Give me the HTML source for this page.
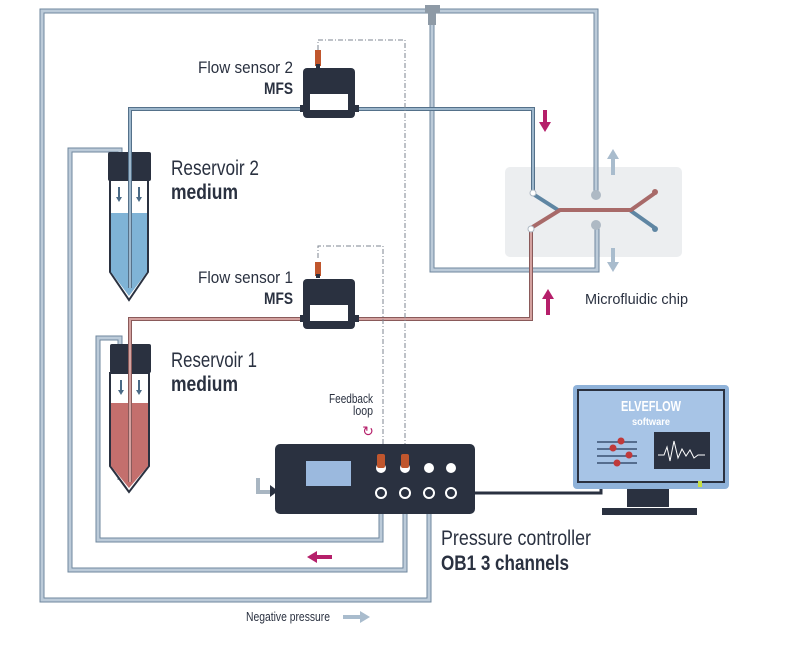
<!DOCTYPE html>
<html><head><meta charset="utf-8"><style>
html,body{margin:0;padding:0;background:#fff;}
svg{display:block}
text{font-family:"Liberation Sans Narrow","Liberation Sans",sans-serif;fill:#2a3140}
</style></head><body>
<svg width="787" height="661" viewBox="0 0 787 661" xmlns="http://www.w3.org/2000/svg">
<rect x="505" y="167" width="177" height="90" rx="5" fill="#eceef0"/>

<g fill="none" stroke-linejoin="miter">
 <g stroke="#6f879e" stroke-width="5">
  <path d="M429,500 V600 H42 V11 H596 V195"/>
  <path d="M432,11 V270 H597 V225"/>
  <path d="M405,500 V570 H70 V150 H120 V285"/>
  <path d="M381,500 V540 H98 V338 H120 V480"/>
 </g>
 <g stroke="#bccbd9" stroke-width="3">
  <path d="M429,500 V600 H42 V11 H596 V195"/>
  <path d="M432,11 V270 H597 V225"/>
  <path d="M405,500 V570 H70 V150 H120 V285"/>
  <path d="M381,500 V540 H98 V338 H120 V480"/>
 </g>
</g>
<rect x="425" y="5" width="15" height="8" fill="#8e9aa6"/>
<rect x="428" y="11" width="8" height="14" fill="#8e9aa6"/>

<path d="M110,180 H148 V272 L129,300 L110,272 Z" fill="#fff" stroke="#2a3140" stroke-width="2"/>
<path d="M111,213 H147 V272 L129,296 L111,272 Z" fill="#7fb3d6"/>
<rect x="108" y="152" width="43" height="29" rx="2" fill="#2a3140"/>
<g stroke="#4a6a86" stroke-width="2"><path d="M119,187 V198 M139,187 V198"/></g>
<g fill="#4a6a86"><path d="M116,197 H122 L119,202 Z M136,197 H142 L139,202 Z"/></g>
<path d="M110,373 H149 V466 L129,492 L110,466 Z" fill="#fff" stroke="#2a3140" stroke-width="2"/>
<path d="M111,403 H148 V466 L129,488 L111,466 Z" fill="#c46f6d"/>
<rect x="110" y="344" width="41" height="29" rx="2" fill="#2a3140"/>
<g stroke="#4a6a86" stroke-width="2"><path d="M121,380 V391 M139,380 V391"/></g>
<g fill="#4a6a86"><path d="M118,390 H124 L121,395 Z M136,390 H142 L139,395 Z"/></g>

<g fill="none">
 <path d="M130,288 V109 H533 V190" stroke="#55718a" stroke-width="4"/>
 <path d="M130,288 V109 H533 V190" stroke="#9db7cc" stroke-width="2"/>
 <path d="M130,482 V319 H531 V232" stroke="#8a5a5a" stroke-width="4"/>
 <path d="M130,482 V319 H531 V232" stroke="#d4a2a0" stroke-width="2"/>
</g>

<g fill="none" stroke-linecap="round">
 <path d="M533,194 L558,210 M631,211 L655,228" stroke="#5f86a3" stroke-width="4"/>
 <path d="M531,228 L560,210 H631 L655,193" stroke="#a86a69" stroke-width="4"/>
</g>
<circle cx="596" cy="195" r="5" fill="#aeb9c4"/>
<circle cx="596" cy="225" r="5" fill="#aeb9c4"/>
<circle cx="533" cy="193" r="3" fill="#fff" stroke="#aeb9c4"/>
<circle cx="531" cy="229" r="3" fill="#fff" stroke="#aeb9c4"/>
<circle cx="655" cy="192" r="3" fill="#a86a69"/>
<circle cx="655" cy="229" r="3" fill="#5f86a3"/>

<g fill="#b51f6a">
 <rect x="543" y="110" width="4" height="13"/><path d="M539,122 H551 L545,132 Z"/>
 <rect x="546" y="298" width="4" height="17"/><path d="M542,299 H554 L548,289 Z"/>
 <rect x="316" y="555" width="16" height="4"/><path d="M317,551 V563 L307,557 Z"/>
</g>
<g fill="#a9bccd">
 <rect x="611" y="157" width="4" height="18"/><path d="M607,159 H619 L613,149 Z"/>
 <rect x="611" y="248" width="4" height="16"/><path d="M607,262 H619 L613,272 Z"/>
 <rect x="343" y="615" width="18" height="4"/><path d="M360,611 V623 L370,617 Z"/>
</g>

<g fill="none" stroke="#7d8690" stroke-width="1" stroke-dasharray="5,2,1,2">
 <path d="M318,50 V40 H405 V458"/>
 <path d="M318,258 V246 H383 V458"/>
</g>

<rect x="300" y="105" width="59" height="7" fill="#2a3140"/>
<rect x="303" y="68" width="52" height="50" rx="4" fill="#2a3140"/>
<rect x="310" y="94" width="38" height="16" fill="#fff"/>
<rect x="315" y="50" width="6" height="16" fill="#c0562d"/>
<rect x="316" y="64" width="4" height="4" fill="#2a3140"/>
<rect x="300" y="315" width="59" height="7" fill="#2a3140"/>
<rect x="303" y="279" width="52" height="50" rx="4" fill="#2a3140"/>
<rect x="310" y="305" width="38" height="16" fill="#fff"/>
<rect x="315" y="262" width="6" height="14" fill="#c0562d"/>
<rect x="316" y="274" width="4" height="4" fill="#2a3140"/>

<rect x="275" y="444" width="200" height="70" rx="5" fill="#2a3140"/>
<rect x="306" y="461" width="45" height="25" fill="#9bb9de"/>
<path d="M258,478 V492 H270" fill="none" stroke="#a9b6c2" stroke-width="4"/>
<path d="M270,485 L278,491 L270,497 Z" fill="#2a3140"/>
<circle cx="381" cy="468" r="5" fill="#fff"/><rect x="377" y="454" width="8" height="14" rx="2" fill="#c0562d"/>
<circle cx="405" cy="468" r="5" fill="#fff"/><rect x="401" y="454" width="8" height="14" rx="2" fill="#c0562d"/>
<circle cx="429" cy="468" r="5" fill="#fff"/>
<circle cx="451" cy="468" r="5" fill="#fff"/>
<g fill="none" stroke="#fff" stroke-width="2">
 <circle cx="381" cy="493" r="5"/><circle cx="405" cy="493" r="5"/><circle cx="429" cy="493" r="5"/><circle cx="451" cy="493" r="5"/>
</g>
<path d="M475,493 H601 V486" fill="none" stroke="#2a3140" stroke-width="3"/>
<text x="368" y="436" font-size="14" text-anchor="middle" style="fill:#b51f6a">↻</text>

<rect x="573" y="385" width="156" height="104" rx="4" fill="#8fb2d9"/>
<rect x="578" y="390" width="146" height="92" fill="#a7c4e6" stroke="#2a3140" stroke-width="2"/>
<rect x="627" y="489" width="42" height="18" fill="#2a3140"/>
<rect x="602" y="508" width="95" height="7" fill="#2a3140"/>
<rect x="698" y="481" width="4" height="6" fill="#c8e040"/>
<text x="651" y="411" font-size="15" font-weight="bold" text-anchor="middle" textLength="60" lengthAdjust="spacingAndGlyphs" style="fill:#fff">ELVEFLOW</text>
<text x="651" y="425" font-size="10" font-weight="bold" text-anchor="middle" textLength="38" lengthAdjust="spacingAndGlyphs" style="fill:#fff">software</text>
<rect x="654" y="432" width="56" height="37" fill="#2a3140"/>
<path d="M658,455 H664 L667,447 L670,461 L674,441 L678,458 L682,449 L686,456 L690,450 L694,458 L698,455 H705" fill="none" stroke="#fff" stroke-width="1"/>
<g stroke="#3a5070" stroke-width="1.5"><path d="M597,442 H637 M597,449 H637 M597,456 H637 M597,463 H637"/></g>
<g fill="#c0393a"><circle cx="621" cy="441" r="3.5"/><circle cx="613" cy="448" r="3.5"/><circle cx="629" cy="455" r="3.5"/><circle cx="617" cy="463" r="3.5"/></g>

<g font-size="17">
<text x="198" y="73" textLength="95" lengthAdjust="spacingAndGlyphs">Flow sensor 2</text>
<text x="264" y="94" font-weight="bold" textLength="29" lengthAdjust="spacingAndGlyphs">MFS</text>
<text x="198" y="283" textLength="95" lengthAdjust="spacingAndGlyphs">Flow sensor 1</text>
<text x="264" y="304" font-weight="bold" textLength="29" lengthAdjust="spacingAndGlyphs">MFS</text>
</g>
<g font-size="21">
<text x="171" y="175" textLength="88" lengthAdjust="spacingAndGlyphs">Reservoir 2</text>
<text x="171" y="199" font-weight="bold" textLength="67" lengthAdjust="spacingAndGlyphs">medium</text>
<text x="171" y="367" textLength="86" lengthAdjust="spacingAndGlyphs">Reservoir 1</text>
<text x="171" y="391" font-weight="bold" textLength="67" lengthAdjust="spacingAndGlyphs">medium</text>
<text x="441" y="545" textLength="150" lengthAdjust="spacingAndGlyphs">Pressure controller</text>
<text x="441" y="570" font-weight="bold" textLength="128" lengthAdjust="spacingAndGlyphs">OB1 3 channels</text>
</g>
<text x="585" y="304" font-size="15" textLength="103" lengthAdjust="spacingAndGlyphs">Microfluidic chip</text>
<text x="329" y="403" font-size="13" textLength="44" lengthAdjust="spacingAndGlyphs">Feedback</text>
<text x="353" y="415" font-size="13" textLength="20" lengthAdjust="spacingAndGlyphs">loop</text>
<text x="246" y="621" font-size="13" textLength="84" lengthAdjust="spacingAndGlyphs">Negative pressure</text>
</svg>
</body></html>
